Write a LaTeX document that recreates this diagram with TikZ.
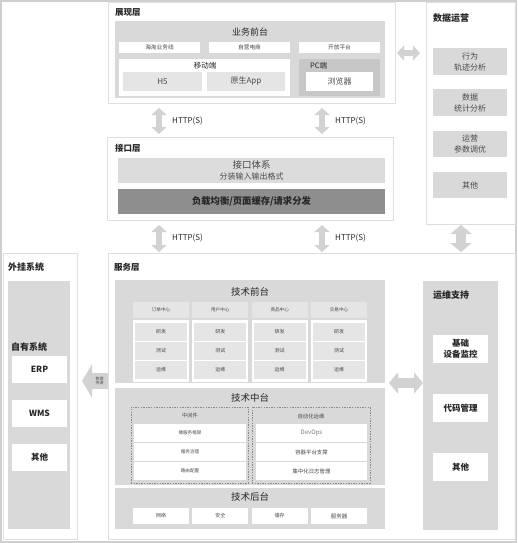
\documentclass[tikz,border=0pt]{standalone}
\usepackage{fontspec}
\setmainfont{Noto Sans CJK SC}
\usepackage{tikz}
\usetikzlibrary{arrows.meta, positioning, calc}
\definecolor{OuterGray}{HTML}{CFCFCF}
\definecolor{FrameGray}{HTML}{DEDEDE}
\definecolor{PanelGray}{HTML}{D9D9D9}
\definecolor{CellGray}{HTML}{E5E5E5}
\definecolor{PcGray}{HTML}{C7C7C7}
\definecolor{ApiGray}{HTML}{DCDCDC}
\definecolor{LoadGray}{HTML}{8E8E8E}
\definecolor{ArrowGray}{HTML}{D2D2D2}
\definecolor{DashGray}{HTML}{8A8A8A}
\definecolor{TextDark}{HTML}{262626}
\definecolor{TextGray}{HTML}{4A4A4A}
\definecolor{TextLight}{HTML}{7A7A7A}

\begin{document}
\begin{tikzpicture}[
    x=1pt, y=-1pt,
    wh/.style 2 args={minimum width=#1pt, minimum height=#2pt},
    layer/.style={rectangle, draw=FrameGray, line width=0.6pt, fill=white,
                  anchor=north west, inner sep=0pt, outer sep=0pt},
    panel/.style={rectangle, fill=PanelGray, anchor=north west,
                  inner sep=0pt, outer sep=0pt, text=TextDark, align=center},
    item/.style={panel, fill=white, font=\fontsize{5}{6.5}\selectfont, text=TextGray},
    cell/.style={item, fill=CellGray},
    sideitem/.style={item, font=\bfseries\fontsize{8.5}{11}\selectfont, text=TextDark},
    opsitem/.style={cell, fill=PanelGray, font=\fontsize{8}{11}\selectfont},
    title/.style={anchor=west, inner sep=0pt, text=TextDark,
                  font=\bfseries\fontsize{8.5}{10}\selectfont},
    sidetitle/.style={title, font=\bfseries\fontsize{9}{10}\selectfont},
    heading/.style={inner sep=0pt, text=TextDark, font=\fontsize{9}{10}\selectfont},
    tag/.style={inner sep=0pt, text=TextGray, font=\fontsize{5}{6}\selectfont, align=center},
    http/.style={anchor=west, inner sep=0pt, text=TextDark, font=\fontsize{8}{9}\selectfont},
    dashbox/.style={rectangle, draw=DashGray, line width=0.6pt, dash pattern=on 1.4pt off 1.2pt,
                    anchor=north west, inner sep=0pt, outer sep=0pt},
    pipe/.style={draw=ArrowGray, line width=6pt, >={Triangle[length=7pt,width=15pt]}, <->},
    widepipe/.style={draw=ArrowGray, line width=10pt, >={Triangle[length=9pt,width=21pt]}, <->}
]
    \useasboundingbox (0,0) rectangle (517,543);
    \draw[OuterGray, line width=1.2pt] (1,1) rectangle (516,542);

    % Presentation layer
    \node[layer, wh={287}{101}] (show) at (108,2) {};
    \node[title] (showtitle) at (115,12) {展现层};
    \node[panel, wh={270}{77}] (bizfront) at (115,21) {};
    \node[heading] (bizfronttitle) at (250,32) {业务前台};
    \node[item, wh={81}{11}, font=\fontsize{5.7}{7}\selectfont] (haitao) at (119,42) {海淘业务线};
    \node[item, wh={81}{11}, font=\fontsize{5.7}{7}\selectfont] (selfshop) at (209,42) {自营电商};
    \node[item, wh={81}{11}, font=\fontsize{5.7}{7}\selectfont] (openplat) at (299,42) {开放平台};
    \node[item, wh={171}{37}] (mobile) at (119,59) {};
    \node[tag, text=TextDark, font=\fontsize{7.5}{8}\selectfont] (mobiletitle) at (205,65.5) {移动端};
    \node[cell, wh={79}{19}, font=\fontsize{8}{9}\selectfont] (hfive) at (123,72) {H5};
    \node[cell, wh={78}{19}, font=\fontsize{8}{9}\selectfont] (nativeapp) at (207,72) {原生App};
    \node[panel, fill=PcGray, wh={81}{37}] (pcend) at (299,59) {};
    \node[tag, anchor=west, text=TextDark, font=\fontsize{7.5}{8}\selectfont] (pctitle) at (310,65.5) {PC端};
    \node[item, wh={67}{19}, font=\fontsize{8}{9}\selectfont] (browser) at (306,72) {浏览器};

    % Data operations
    \node[layer, wh={89}{222}] (ops) at (426,2) {};
    \node[sidetitle] (opstitle) at (433,18) {数据运营};
    \node[opsitem, wh={74}{27}] (opstrack) at (433,48) {行为\\轨迹分析};
    \node[opsitem, wh={74}{27}] (opsstat) at (433,89) {数据\\统计分析};
    \node[opsitem, wh={74}{26}] (opstune) at (433,131) {运营\\参数调优};
    \node[opsitem, wh={74}{26}] (opsother) at (433,172) {其他};

    % Interface layer
    \node[layer, wh={286}{83}] (api) at (107,137) {};
    \node[title] (apititle) at (115,148) {接口层};
    \node[panel, fill=ApiGray, wh={267}{25}, text=TextGray, font=\fontsize{9.5}{10.5}\selectfont] (apisys) at (118,158)
        {接口体系\\{\fontsize{8}{9}\selectfont 分装输入输出格式}};
    \node[panel, fill=LoadGray, wh={267}{25}, font=\bfseries\fontsize{9.3}{10}\selectfont] (balance) at (118,189)
        {负载均衡/页面缓存/请求分发};

    % External systems
    \node[layer, wh={74}{286}] (ext) at (3,253) {};
    \node[sidetitle] (exttitle) at (8,267) {外挂系统};
    \node[panel, wh={62}{248}] (own) at (8,281) {};
    \node[sidetitle] (owntitle) at (11,347) {自有系统};
    \node[sideitem, wh={55}{27}] (erp) at (12,356) {ERP};
    \node[sideitem, wh={55}{27}] (wms) at (12,400) {WMS};
    \node[sideitem, wh={55}{27}] (extother) at (12,444) {其他};

    % Service layer
    \node[layer, wh={407}{286}] (svc) at (108,253) {};
    \node[title] (svctitle) at (114,267) {服务层};

    % Tech front office
    \node[panel, wh={270}{103}] (front) at (115,280) {};
    \node[heading, font=\fontsize{9.5}{11}\selectfont] (fronttitle) at (250,292) {技术前台};
    \node[cell, wh={56}{16}, font=\fontsize{4.6}{6}\selectfont] (orderhead) at (133,302) {订单中心};
    \node[item, wh={56}{62}] (orderbox) at (133,320) {};
    \node[cell, wh={52}{18}] (orderdev) at (135,323) {研发};
    \node[cell, wh={52}{18}] (ordertest) at (135,342) {测试};
    \node[cell, wh={52}{18}] (orderops) at (135,361) {运维};
    \node[cell, wh={56}{16}, font=\fontsize{4.6}{6}\selectfont] (userhead) at (192.3,302) {用户中心};
    \node[item, wh={56}{62}] (userbox) at (192.3,320) {};
    \node[cell, wh={52}{18}] (userdev) at (194.3,323) {研发};
    \node[cell, wh={52}{18}] (usertest) at (194.3,342) {测试};
    \node[cell, wh={52}{18}] (userops) at (194.3,361) {运维};
    \node[cell, wh={56}{16}, font=\fontsize{4.6}{6}\selectfont] (goodshead) at (251.7,302) {商品中心};
    \node[item, wh={56}{62}] (goodsbox) at (251.7,320) {};
    \node[cell, wh={52}{18}] (goodsdev) at (253.7,323) {研发};
    \node[cell, wh={52}{18}] (goodstest) at (253.7,342) {测试};
    \node[cell, wh={52}{18}] (goodsops) at (253.7,361) {运维};
    \node[cell, wh={56}{16}, font=\fontsize{4.6}{6}\selectfont] (tradehead) at (311,302) {交易中心};
    \node[item, wh={56}{62}] (tradebox) at (311,320) {};
    \node[cell, wh={52}{18}] (tradedev) at (313,323) {研发};
    \node[cell, wh={52}{18}] (tradetest) at (313,342) {测试};
    \node[cell, wh={52}{18}] (tradeops) at (313,361) {运维};

    % Tech middle office
    \node[panel, wh={270}{97}] (mid) at (115,388) {};
    \node[heading, font=\fontsize{9.5}{11}\selectfont] (midtitle) at (250,398) {技术中台};
    \node[dashbox, wh={117}{76}] (midware) at (131,407) {};
    \node[dashbox, wh={118}{76}] (autoops) at (252,407) {};
    \node[tag, font=\fontsize{5.2}{6}\selectfont] (midwaretitle) at (190,416) {中间件};
    \node[tag, font=\fontsize{5.4}{6}\selectfont] (autoopstitle) at (311,416) {自动化运维};
    \node[item, wh={112}{18}, font=\fontsize{4.6}{6}\selectfont] (microsvc) at (134,424) {微服务框架};
    \node[item, wh={112}{18}, font=\fontsize{4.6}{6}\selectfont] (govern) at (134,443) {服务治理};
    \node[item, wh={112}{18}, font=\fontsize{4.6}{6}\selectfont] (routing) at (134,462) {路由配置};
    \node[item, wh={111}{18}, font=\fontsize{6}{7}\selectfont, text=TextLight] (devops) at (256,424) {DevOps};
    \node[item, wh={111}{18}, font=\fontsize{5.4}{6.5}\selectfont] (container) at (256,443) {容器平台支撑};
    \node[item, wh={111}{18}, font=\fontsize{5.4}{6.5}\selectfont] (logging) at (256,462) {集中化日志管理};

    % Tech back office
    \node[panel, wh={270}{41}] (back) at (115,488) {};
    \node[heading, font=\fontsize{9.5}{11}\selectfont] (backtitle) at (250,497) {技术后台};
    \node[item, wh={56}{16}] (network) at (133,508) {网络};
    \node[item, wh={56}{16}] (security) at (192.3,508) {安全};
    \node[item, wh={56}{16}] (storage) at (251.7,508) {储存};
    \node[item, wh={56}{16}, font=\fontsize{5.5}{6.5}\selectfont] (server) at (311,508) {服务器};

    % Ops support
    \node[panel, wh={75}{249}] (support) at (423,281) {};
    \node[sidetitle] (supporttitle) at (433,295) {运维支持};
    \node[sideitem, wh={55}{28}] (monitor) at (433,335) {基础\\设备监控};
    \node[sideitem, wh={55}{28}] (codemgmt) at (433,394) {代码管理};
    \node[sideitem, wh={55}{28}] (supother) at (433,453) {其他};

    % Arrows between layers
    \coordinate (httpleft) at (159,0);
    \coordinate (httpright) at (322,0);
    \coordinate (opslink) at (0,53);
    \coordinate (opsdown) at (461,0);
    \coordinate (xfer) at (0,381);

    \draw[pipe, shorten <=5pt, shorten >=3pt] (httpleft |- show.south) -- (httpleft |- api.north);
    \draw[pipe, shorten <=5pt, shorten >=3pt] (httpright |- show.south) -- (httpright |- api.north);
    \draw[pipe, shorten <=5pt, shorten >=1pt] (httpleft |- api.south) -- (httpleft |- svc.north);
    \draw[pipe, shorten <=5pt, shorten >=1pt] (httpright |- api.south) -- (httpright |- svc.north);
    \node[http] (httpa) at (172,121) {HTTP(S)};
    \node[http] (httpb) at (335,121) {HTTP(S)};
    \node[http] (httpc) at (172,238) {HTTP(S)};
    \node[http] (httpd) at (335,238) {HTTP(S)};

    \draw[pipe, shorten <=2pt, shorten >=6pt] (show.east |- opslink) -- (ops.west |- opslink);
    \draw[widepipe, shorten <=1pt, shorten >=1pt] (opsdown |- ops.south) -- (opsdown |- svc.north);
    \draw[widepipe, shorten <=4pt] (front.south east) -- (front.south east -| support.west);

    % Data transfer to external systems
    \draw[draw=ArrowGray, line width=16pt, -{Triangle[length=10pt,width=33pt]}, shorten >=5pt]
        (svc.west |- xfer) -- (ext.east |- xfer);
    \node[tag, font=\fontsize{4}{4.8}\selectfont] (xfertext) at (99.5,381) {数据\\传递};
\end{tikzpicture}
\end{document}
